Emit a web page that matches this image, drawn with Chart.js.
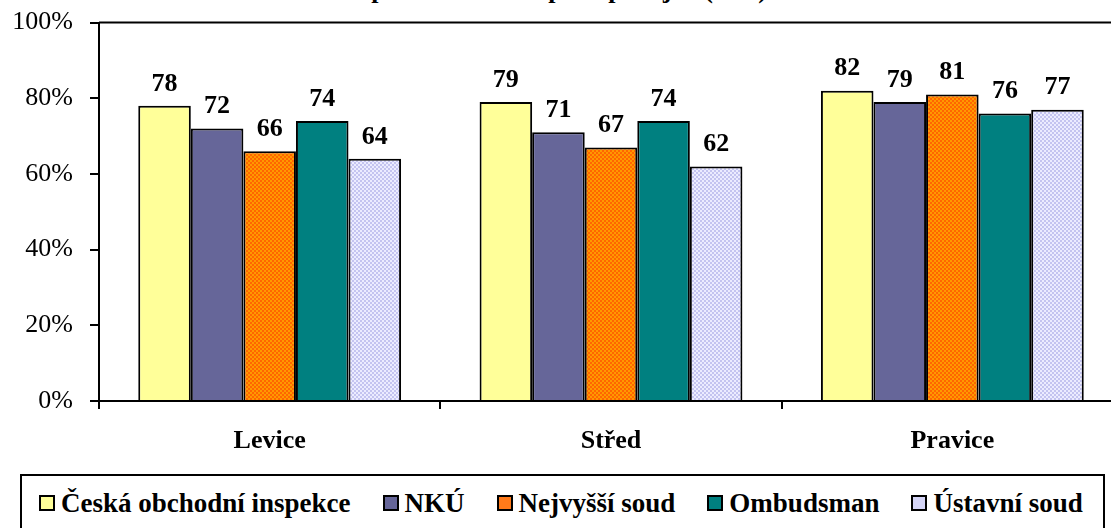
<!DOCTYPE html>
<html>
<head>
<meta charset="utf-8">
<script src="https://cdn.jsdelivr.net/npm/chart.js@4"></script>
<style>
  html, body { margin: 0; padding: 0; background: #fff; overflow: hidden; width: 1111px; height: 528px; }
  #wrap { position: absolute; left: 0; top: -10px; width: 1126px; height: 480px; }
  #titulek { position: absolute; left: 0; width: 1035px; top: -25px; text-align: center;
    font: bold 26px "Liberation Serif", "Times New Roman", serif; white-space: nowrap; }
  #legenda { position: absolute; left: 20px; top: 474px; width: 1085px; height: 70px;
    border: 2px solid #000; box-sizing: border-box; display: flex; align-items: center;
    font: bold 27px "Liberation Serif", "Times New Roman", serif; padding-left: 17px; padding-bottom: 12px; }
  .polozka { display: flex; align-items: center; margin-right: 32px; white-space: nowrap; }
  .znacka { width: 12px; height: 12px; border: 2px solid #000; margin-right: 6px; }
</style>
</head>
<body>
<div id="titulek">součet odpovědí velmi a spíše spokojen (v %)</div>
<div id="wrap"><canvas id="graf" width="1126" height="480"></canvas></div>
<div id="legenda"></div>
<script>
// data
const kategorie = ["Levice", "Střed", "Pravice"];
const instituce = ["Česká obchodní inspekce", "NKÚ", "Nejvyšší soud", "Ombudsman", "Ústavní soud"];
const coi = [78, 79, 82];
const nku = [72, 71, 79];
const nejvyssiSoud = [66, 67, 81];
const ombudsman = [74, 74, 76];
const ustavniSoud = [64, 62, 77];
const hodnoty = [coi, nku, nejvyssiSoud, ombudsman, ustavniSoud];
const yTicks = [0, 20, 40, 60, 80, 100];

// sachovnicovy vzor pro oranzove a fialove sloupce
function vzor(c1, c2) {
  const cv = document.createElement("canvas");
  cv.width = 4; cv.height = 4;
  const g = cv.getContext("2d");
  g.fillStyle = c1; g.fillRect(0, 0, 4, 4);
  g.fillStyle = c2; g.fillRect(0, 0, 2, 2); g.fillRect(2, 2, 2, 2);
  return g.createPattern(cv, "repeat");
}
const ctx = document.getElementById("graf").getContext("2d");
const barvy = ["#ffff99", "#666699", vzor("#ff6600", "#ff9900"), "#008080", vzor("#c4c4f0", "#ececff")];
const barvyLegenda = ["#ffff99", "#666699", "#ff7a1a", "#008080", "#d4d4f6"];

const hodnotyNadSloupci = {
  id: "hodnotyNadSloupci",
  afterDatasetsDraw(chart) {
    const c = chart.ctx;
    c.save();
    c.font = "bold 26px 'Liberation Serif', 'Times New Roman', serif";
    c.fillStyle = "#000";
    c.textAlign = "center";
    c.textBaseline = "bottom";
    chart.data.datasets.forEach((ds, i) => {
      chart.getDatasetMeta(i).data.forEach((bar, j) => {
        c.fillText(ds.data[j], bar.x, bar.y - 9);
      });
    });
    c.restore();
  }
};

const ramecek = {
  id: "ramecek",
  afterDraw(chart) {
    const a = chart.chartArea, c = chart.ctx;
    c.save();
    c.strokeStyle = "#000"; c.lineWidth = 2;
    c.beginPath();
    c.moveTo(a.left, a.top); c.lineTo(a.right, a.top); c.lineTo(a.right, a.bottom);
    c.stroke();
    c.restore();
  }
};

new Chart(ctx, {
  type: "bar",
  data: {
    labels: kategorie,
    datasets: instituce.map((n, i) => ({
      label: n,
      data: hodnoty[i],
      backgroundColor: barvy[i],
      borderColor: "#000",
      borderWidth: 2,
      barPercentage: 1,
      categoryPercentage: 0.77
    }))
  },
  options: {
    responsive: false,
    animation: false,
    layout: { padding: { top: 13, right: 3, left: 0, bottom: 0 } },
    plugins: { legend: { display: false }, tooltip: { enabled: false } },
    scales: {
      x: {
        grid: { drawOnChartArea: false, color: "#000", lineWidth: 2, tickLength: 8 },
        border: { color: "#000", width: 2 },
        ticks: { color: "#000", padding: 17, font: { family: "'Liberation Serif', 'Times New Roman', serif", size: 26, weight: "bold" } },
        afterFit: s => { s.height = 69; }
      },
      y: {
        min: 0, max: 100,
        afterBuildTicks: s => { s.ticks = yTicks.map(v => ({ value: v })); },
        grid: { drawOnChartArea: false, color: "#000", lineWidth: 2, tickLength: 9 },
        border: { color: "#000", width: 2 },
        ticks: { color: "#000", padding: 17, callback: v => v + "%", font: { family: "'Liberation Serif', 'Times New Roman', serif", size: 26 } },
        afterFit: s => { s.width = 99; }
      }
    }
  },
  plugins: [hodnotyNadSloupci, ramecek]
});

// legenda
const leg = document.getElementById("legenda");
instituce.forEach((n, i) => {
  const p = document.createElement("div");
  p.className = "polozka";
  p.innerHTML = '<span class="znacka" style="background:' + barvyLegenda[i] + '"></span>' + n;
  leg.appendChild(p);
});
</script>
</body>
</html>
